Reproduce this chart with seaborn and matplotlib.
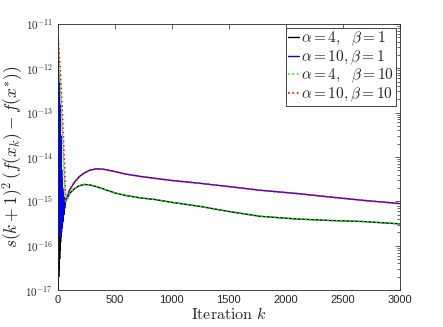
import matplotlib
matplotlib.use("Agg")
import matplotlib.pyplot as plt
import seaborn as sns
import numpy as np
import pandas as pd
from matplotlib.ticker import FixedLocator, FuncFormatter, LogLocator, NullFormatter

# ---------------- data ----------------
k_osc = [0, 2, 4, 6, 8, 10, 12, 14, 16, 18, 20, 22, 24, 26, 28, 30, 32, 34,
         36, 38, 40, 42, 44, 46, 48, 50, 52, 54, 56, 58, 60, 62, 64, 66, 68, 70]
a4b1_osc = [3e-14, 1e-17, 2.5e-14, 1.5e-17, 2e-14, 2e-17, 1.5e-14, 3e-17, 1.2e-14, 5e-17,
            1e-14, 8e-17, 8e-15, 1.2e-16, 6e-15, 1.6e-16, 4e-15, 2e-16, 3e-15, 2.5e-16,
            2.2e-15, 3e-16, 1.8e-15, 3.5e-16, 1.5e-15, 4e-16, 1.3e-15, 5e-16, 1.2e-15, 6e-16,
            1.1e-15, 7e-16, 1e-15, 8.5e-16, 9.5e-16, 1e-15]
a10b1_osc = [2.3e-12, 3e-16, 1.5e-12, 2.5e-16, 8e-13, 2e-16, 5e-13, 1.8e-16, 3e-13, 1.7e-16,
             1.5e-13, 1.6e-16, 8e-14, 1.7e-16, 3e-14, 2e-16, 1e-14, 2.5e-16, 5e-15, 3e-16,
             3e-15, 3.5e-16, 2e-15, 4.5e-16, 1.5e-15, 5.5e-16, 1.2e-15, 6.5e-16, 1e-15, 7.5e-16,
             9e-16, 8e-16, 9e-16, 9e-16, 9.5e-16, 1e-15]

k_dot = [0, 3, 10, 20, 30, 40, 50, 60, 70]
a4b10_dot = [2e-12, 4.5e-12, 2e-12, 6e-13, 1.5e-13, 4e-14, 1e-14, 2.5e-15, 1.0e-15]
a10b10_dot = [3e-12, 5.2e-12, 3e-12, 1.2e-12, 4e-13, 1.2e-13, 3e-14, 6e-15, 1.0e-15]

k_late = [105, 150, 190, 237, 280, 340, 400, 500, 600, 719, 850, 1000, 1246,
          1500, 1772, 2094, 2388, 2680, 3000]
a4_late = [1.5e-15, 1.95e-15, 2.25e-15, 2.4e-15, 2.35e-15, 2.15e-15, 1.9e-15, 1.55e-15,
           1.35e-15, 1.2e-15, 1.1e-15, 9.5e-16, 7.7e-16, 5.9e-16, 4.6e-16, 4.0e-16,
           3.7e-16, 3.5e-16, 3.1e-16]
a10_late = [1.8e-15, 2.75e-15, 3.6e-15, 4.4e-15, 5.0e-15, 5.4e-15, 5.3e-15, 4.7e-15,
            4.1e-15, 3.66e-15, 3.3e-15, 2.95e-15, 2.55e-15, 2.15e-15, 1.78e-15, 1.5e-15,
            1.25e-15, 1.05e-15, 8.9e-16]

labels = [r"$\alpha = 4,\ \ \beta = 1$", r"$\alpha = 10, \beta = 1$",
          r"$\alpha = 4,\ \ \beta = 10$", r"$\alpha = 10, \beta = 10$"]
x_ticks = [0, 500, 1000, 1500, 2000, 2500, 3000]
y_ticks = [1e-17, 1e-16, 1e-15, 1e-14, 1e-13, 1e-12, 1e-11]

# ---------------- style ----------------
sns.set_theme(style="white")
plt.rcParams["font.family"] = ["Liberation Sans", "DejaVu Sans"]
plt.rcParams["mathtext.fontset"] = "cm"

fig = plt.figure(figsize=(4.43, 3.27), dpi=100)
ax = fig.add_axes([0.130, 0.113, 0.773, 0.814])

series = [
    (k_osc + k_late, a4b1_osc + a4_late, "black", "-", 1.0, labels[0]),
    (k_osc + k_late, a10b1_osc + a10_late, "#0000ff", "-", 1.0, labels[1]),
    (k_dot + k_late, a4b10_dot + a4_late, "#00ff00", ":", 1.2, labels[2]),
    (k_dot + k_late, a10b10_dot + a10_late, "#ff0000", ":", 1.2, labels[3]),
]
for kk, vv, col, ls, lw, lab in series:
    df = pd.DataFrame({"k": kk, "v": vv})
    sns.lineplot(data=df, x="k", y="v", ax=ax, color=col, linestyle=ls, lw=lw,
                 label=lab, sort=False, estimator=None)

ax.set_yscale("log")
ax.set_xlim(0, 3000)
ax.set_ylim(1e-17, 1e-11)
ax.xaxis.set_major_locator(FixedLocator(x_ticks))
ax.yaxis.set_major_locator(FixedLocator(y_ticks))
ax.yaxis.set_minor_locator(LogLocator(base=10, subs=np.arange(2, 10), numticks=20))
ax.yaxis.set_minor_formatter(NullFormatter())


def yfmt(v, pos):
    e = int(round(np.log10(v)))
    return r"$\mathsf{10^{%d}}$" % e


ax.yaxis.set_major_formatter(FuncFormatter(yfmt))
ax.tick_params(axis="both", which="both", direction="in", top=True, right=True,
               labelsize=8, colors="#262626")
ax.tick_params(axis="both", which="major", length=3.5, width=0.5)
ax.tick_params(axis="y", which="minor", length=2, width=0.5)
for s in ax.spines.values():
    s.set_color("#262626")
    s.set_linewidth(0.6)

ax.set_xlabel(r"$\mathrm{Iteration}\ k$", fontsize=11.5, labelpad=1)
ax.set_ylabel(r"$s(k+1)^2\,(f(x_k)-f(x^{*}))$", fontsize=12.5, labelpad=0)

leg = ax.legend(loc="upper right", fontsize=11, frameon=True, fancybox=False,
                edgecolor="#262626", framealpha=1, handlelength=0.75,
                handletextpad=0.1, labelspacing=0.0, borderpad=0.15,
                borderaxespad=0.25)
leg.get_frame().set_linewidth(0.6)

fig.savefig("out.png", dpi=100, facecolor="white")
